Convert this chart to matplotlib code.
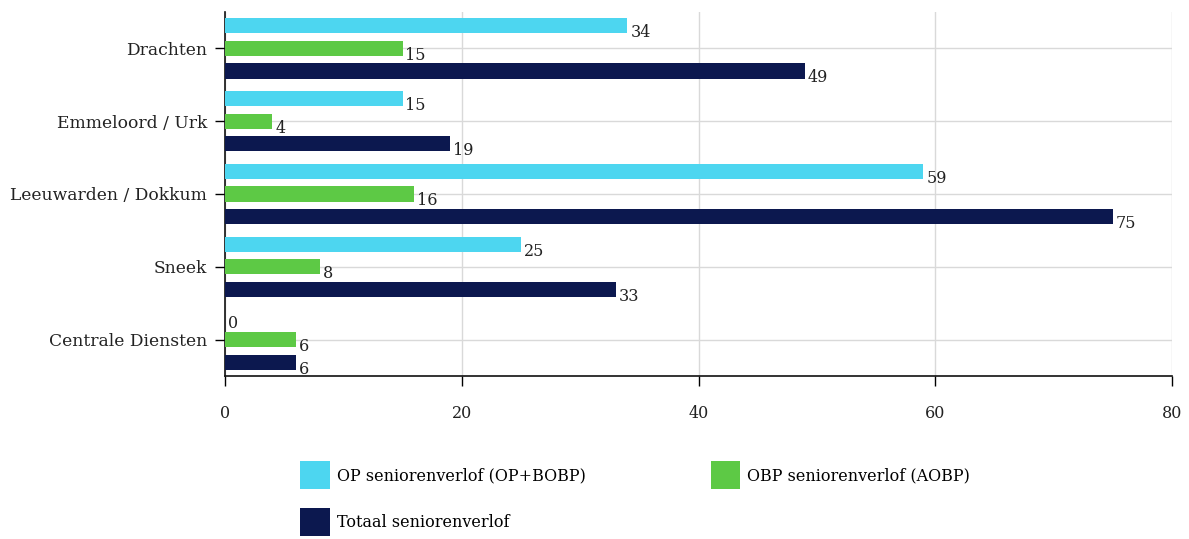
import numpy as np
import matplotlib.pyplot as plt
from matplotlib.patches import Patch

plt.rcParams['font.family'] = ['DejaVu Serif']

### data
locaties = ['Drachten', 'Emmeloord / Urk', 'Leeuwarden / Dokkum', 'Sneek', 'Centrale Diensten']
op_verlof = [34, 15, 59, 25, 0]
obp_verlof = [15, 4, 16, 8, 6]
totaal_verlof = [49, 19, 75, 33, 6]
reeksen = ['OP seniorenverlof (OP+BOBP)', 'OBP seniorenverlof (AOBP)', 'Totaal seniorenverlof']
kleuren = ['#4dd6f0', '#5dc945', '#0c184f']
x_ticks = [0, 20, 40, 60, 80]

### plot
fig = plt.figure(figsize=(11.89, 5.39), dpi=100)
ax = fig.add_axes([225/1189, 1 - 376/539, (1172-225)/1189, (376-12)/539])

pos = np.arange(len(locaties))
h = 0.21
offs = [-0.31, 0.0, 0.31]
for serie, kleur, off in zip([op_verlof, obp_verlof, totaal_verlof], kleuren, offs):
  bars = ax.barh(pos + off, serie, height=h, color=kleur, zorder=3)
  for rect, v in zip(bars, serie):
    ax.annotate('{:d}'.format(v),
      (rect.get_width(), rect.get_y() + rect.get_height() / 2),
      xytext=(2, -5), textcoords='offset points',
      ha='left', va='center', fontsize=11.5, color='#222222')

ax.set_ylim(len(locaties) - 0.5, -0.5)
ax.set_yticks(pos)
ax.set_yticklabels(locaties, fontsize=12.3, color='#222222')
ax.set_xlim(0, 80)
ax.set_xticks(x_ticks)
ax.set_xticklabels([str(t) for t in x_ticks], fontsize=11.5, color='#222222')
ax.tick_params(axis='x', length=7, width=1, pad=14, direction='out')
ax.tick_params(axis='y', length=7, width=1, pad=6, direction='out')
ax.grid(True, color='#d9d9d9', lw=1, zorder=0)
ax.set_axisbelow(True)
for s in ['top', 'right']:
  ax.spines[s].set_visible(False)
for s in ['left', 'bottom']:
  ax.spines[s].set_color('#111111')
  ax.spines[s].set_linewidth(1.2)

# legend fills column-wise, so order the entries to read row-wise
volgorde = [0, 2, 1]
handles = [Patch(facecolor=kleuren[i], edgecolor='none') for i in volgorde]
labels = [reeksen[i] for i in volgorde]
fig.legend(handles, labels, loc='upper left',
  bbox_to_anchor=(294/1189, 1 - 455/539), ncol=2, frameon=False,
  fontsize=11.5, handlelength=1.85, handleheight=2.3, handletextpad=0.45,
  columnspacing=7.8, labelspacing=1.2, borderaxespad=0)

plt.savefig('out.png')
